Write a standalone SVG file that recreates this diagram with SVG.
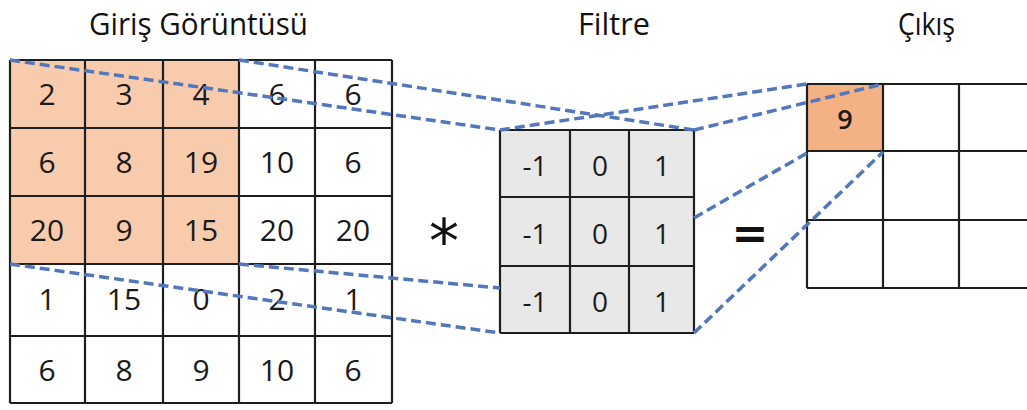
<svg xmlns="http://www.w3.org/2000/svg" width="1027" height="410" viewBox="0 0 1027 410">
<style>
.title{font-family:"Open Sans","Noto Sans",sans-serif;font-size:31px;fill:#111}
.num{font-family:"Open Sans","Noto Sans",sans-serif;font-size:30px;fill:#1a1a1a;text-anchor:middle}
.fnum{font-family:"Open Sans","Noto Sans",sans-serif;font-size:28px;fill:#1a1a1a;text-anchor:middle}
.grid{stroke:#1e1e1e;stroke-width:2.2;fill:none}
.hl{fill:#f8cbad}
.gray{fill:#e8e8e8}
.dash{stroke:#5277bb;stroke-width:3.5;stroke-dasharray:10 5;fill:none}
.op{font-family:"DejaVu Sans",sans-serif;fill:#111;text-anchor:middle}
</style>
<rect width="1027" height="410" fill="#fff"/>
<g id="titles">
<text class="title" x="89" y="35" textLength="219" lengthAdjust="spacingAndGlyphs">Giriş Görüntüsü</text>
<text class="title" x="578" y="35" textLength="72" lengthAdjust="spacingAndGlyphs">Filtre</text>
<text class="title" x="898" y="35" textLength="57" lengthAdjust="spacingAndGlyphs">Çıkış</text>
</g>
<g id="input-image">
<rect class="hl" x="10" y="60" width="229" height="204"/>
<path class="grid" d="M10 60H392M10 128H392M10 196H392M10 264H392M10 336H392M10 403H392M10 60V403M85 60V403M163 60V403M239 60V403M315 60V403M392 60V403"/>
<text class="num" x="47" y="105">2</text><text class="num" x="124" y="105">3</text><text class="num" x="201" y="105">4</text><text class="num" x="277" y="105">6</text><text class="num" x="353" y="105">6</text>
<text class="num" x="47" y="173">6</text><text class="num" x="124" y="173">8</text><text class="num" x="201" y="173">19</text><text class="num" x="277" y="173">10</text><text class="num" x="353" y="173">6</text>
<text class="num" x="47" y="241">20</text><text class="num" x="124" y="241">9</text><text class="num" x="201" y="241">15</text><text class="num" x="277" y="241">20</text><text class="num" x="353" y="241">20</text>
<text class="num" x="47" y="310">1</text><text class="num" x="124" y="310">15</text><text class="num" x="201" y="310">0</text><text class="num" x="277" y="310">2</text><text class="num" x="353" y="310">1</text>
<text class="num" x="47" y="381">6</text><text class="num" x="124" y="381">8</text><text class="num" x="201" y="381">9</text><text class="num" x="277" y="381">10</text><text class="num" x="353" y="381">6</text>
</g>
<g id="convolve-op">
<text class="op" x="444" y="262" font-size="60">*</text>
</g>
<g id="filter">
<rect class="gray" x="500" y="130" width="194" height="203"/>
<path class="grid" d="M500 130H694M500 197H694M500 266H694M500 333H694M500 130V333M570 130V333M629 130V333M694 130V333"/>
<text class="fnum" x="535" y="176">-1</text><text class="fnum" x="600" y="176">0</text><text class="fnum" x="662" y="176">1</text>
<text class="fnum" x="535" y="244">-1</text><text class="fnum" x="600" y="244">0</text><text class="fnum" x="662" y="244">1</text>
<text class="fnum" x="535" y="312">-1</text><text class="fnum" x="600" y="312">0</text><text class="fnum" x="662" y="312">1</text>
</g>
<g id="equals-op">
<text class="op" x="750" y="248" font-size="44" font-weight="bold">=</text>
</g>
<g id="output">
<rect x="807" y="84" width="76" height="67" fill="#f4b183"/>
<path class="grid" d="M807 84H1030M807 151H1030M807 220H1030M807 288H1030M807 84V288M883 84V288M959 84V288"/>
<text x="845" y="129" font-family="Open Sans, Noto Sans, sans-serif" font-size="27" font-weight="600" fill="#1a1a1a" text-anchor="middle">9</text>
</g>
<g id="connectors">
<line class="dash" x1="10" y1="60" x2="500" y2="130"/>
<line class="dash" x1="239" y1="60" x2="694" y2="130"/>
<line class="dash" x1="10" y1="264" x2="500" y2="333"/>
<line class="dash" x1="239" y1="264" x2="500" y2="288"/>
<line class="dash" x1="500" y1="130" x2="807" y2="84"/>
<line class="dash" x1="694" y1="130" x2="883" y2="84"/>
<line class="dash" x1="694" y1="218" x2="807" y2="153"/>
<line class="dash" x1="694" y1="333" x2="883" y2="152"/>
</g>
</svg>
